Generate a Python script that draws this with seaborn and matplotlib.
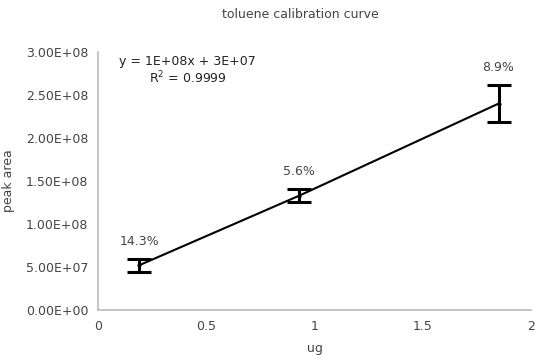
import matplotlib
matplotlib.use("Agg")
import matplotlib.pyplot as plt
import seaborn as sns
import numpy as np
import pandas as pd

# data
ug = [0.19, 0.93, 1.85]
peak_area = [5.2e7, 1.33e8, 2.40e8]
cv_pct = [14.3, 5.6, 8.9]
cv_labels = ["14.3%", "5.6%", "8.9%"]
x_ticks = [0, 0.5, 1, 1.5, 2]
x_tick_labels = ["0", "0.5", "1", "1.5", "2"]
y_ticks = [0, 5e7, 1e8, 1.5e8, 2e8, 2.5e8, 3e8]
y_tick_labels = ["0.00E+00", "5.00E+07", "1.00E+08", "1.50E+08", "2.00E+08", "2.50E+08", "3.00E+08"]
title = "toluene calibration curve"
eq_text = "y = 1E+08x + 3E+07"
r2_text = "R$^2$ = 0.9999"

sns.set_style("white")
plt.rcParams['font.family'] = ['DejaVu Sans']
plt.rcParams['mathtext.default'] = 'regular'

df = pd.DataFrame({"ug": ug, "peak_area": peak_area, "cv": cv_pct})
err = [v * c / 100 for v, c in zip(peak_area, cv_pct)]

fig = plt.figure(figsize=(5.35, 3.56), dpi=100)
ax = fig.add_axes([98 / 535, 1 - 310 / 356, (531 - 98) / 535, (310 - 52) / 356])

sns.lineplot(data=df, x="ug", y="peak_area", ax=ax, color="black", linewidth=1.5,
             marker="o", markersize=3, markeredgewidth=0)
ax.errorbar(ug, peak_area, yerr=err, fmt="none", ecolor="black", elinewidth=2.2,
            capsize=8.5, capthick=2.2)

for x, y, e, lab in zip(ug, peak_area, err, cv_labels):
    ax.annotate(lab, (x, y + e), xytext=(0, 8), textcoords="offset points",
                ha="center", va="bottom", fontsize=9, color="#444444")

ax.set_xlim(0, 2)
ax.set_ylim(0, 3e8)
ax.set_xticks(x_ticks)
ax.set_xticklabels(x_tick_labels)
ax.set_yticks(y_ticks)
ax.set_yticklabels(y_tick_labels)
ax.tick_params(axis="both", length=0, labelsize=9, colors="#444444", pad=7)
for s in ["top", "right"]:
    ax.spines[s].set_visible(False)
for s in ["left", "bottom"]:
    ax.spines[s].set_color("#bbbbbb")
    ax.spines[s].set_linewidth(1.2)

ax.set_xlabel("ug", fontsize=9, color="#444444", labelpad=7)
ax.set_ylabel("peak area", fontsize=9, color="#444444", labelpad=8)

fig.text(300 / 535, 1 - 15 / 356, title, ha="center", va="center", fontsize=9, color="#444444")
fig.text(187 / 535, 1 - 61 / 356, eq_text, ha="center", va="center", fontsize=9, color="#222222")
fig.text(188 / 535, 1 - 78 / 356, r2_text, ha="center", va="center", fontsize=9, color="#222222")

fig.savefig("out.png", dpi=100)
